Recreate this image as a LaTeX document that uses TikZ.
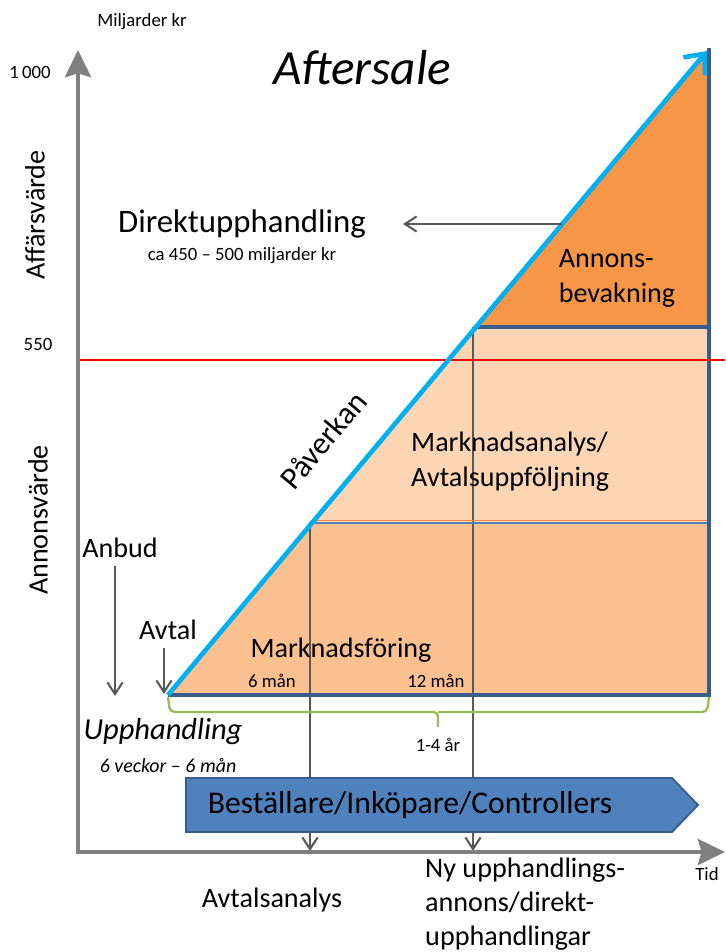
\documentclass[tikz,border=0pt]{standalone}
\usepackage{fontspec}
\setmainfont{Carlito}
\usetikzlibrary{arrows.meta}

\definecolor{axisgray}{HTML}{808080}
\definecolor{pointgray}{HTML}{595959}
\definecolor{rimblue}{HTML}{385D8A}
\definecolor{boxblue}{HTML}{4F81BD}
\definecolor{skyblue}{HTML}{00B0F0}
\definecolor{darkorange}{HTML}{F79646}
\definecolor{paleorange}{HTML}{FCD5B5}
\definecolor{midorange}{HTML}{FAC090}
\definecolor{bracegreen}{HTML}{9BBB59}

\begin{document}
\begin{tikzpicture}
    [x=0.03cm, y=-0.03cm,
    big/.style={font=\fontsize{24}{30}\selectfont, inner sep=0pt},
    small/.style={font=\fontsize{16}{19}\selectfont, inner sep=0pt},
    axis/.style={line width=4pt, axisgray, -{Stealth[length=23pt, width=22pt, inset=3pt]}},
    pointer/.style={line width=1.8pt, pointgray, -{Straight Barb[length=10pt, width=13pt]}},
    rim/.style={line width=3.2pt, rimblue},
    brace/.style={line width=2pt, bracegreen, rounded corners=4pt}]

    \useasboundingbox (0,0) rectangle (725,952);

    % regions under the diagonal
    \fill[darkorange] (709,50) -- (477,327) -- (709,327) -- cycle;
    \fill[paleorange] (477,327) -- (313,522) -- (709,522) -- (709,327) -- cycle;
    \fill[midorange] (313,522) -- (168,695) -- (709,695) -- (709,522) -- cycle;

    % drop lines
    \coordinate (s6top) at (310,522);
    \coordinate (s6bot) at (310,851);
    \coordinate (s12top) at (473,327);
    \coordinate (s12bot) at (473,851);
    \draw[pointer] (s6top) -- (s6bot);
    \draw[pointer] (s12top) -- (s12bot);

    % borders
    \draw[line width=1.8pt, boxblue] (313,523) -- (709,523);
    \draw[line width=1pt, darkorange!90!red] (313,520.5) -- (709,520.5);
    \draw[rim] (477,327) -- (709,327);
    \draw[rim] (168,695) -- (709,695);
    \draw[rim] (709,48) -- (709,697);

    % limit line
    \draw[line width=1.6pt, red] (78,360) -- (725,360);

    % diagonal
    \coordinate (start) at (168,695);
    \coordinate (peak) at (707,51);
    \draw[line width=4pt, skyblue, -{Straight Barb[length=14pt, width=24pt, line width=4pt]}] (start) -- (peak);

    % brace
    \draw[brace] (168,697) -- (170,712) -- (438,712) -- (438,727);
    \draw[brace] (438,712) -- (707,712) -- (709,697);

    % texts
    \node[small] (unit) at (142,22) {Miljarder kr};
    \node[small] (ytop) at (30,72) {1\,000};
    \node[font=\fontsize{42}{48}\selectfont\itshape, inner sep=0pt] (title) at (362,68) {Aftersale};
    \node[big, rotate=90] (affv) at (35,215) {Affärsvärde};
    \node[small] (level) at (38,344) {550};
    \node[big, rotate=90] (annv) at (38,520) {Annonsvärde};
    \node[font=\fontsize{28}{32}\selectfont, inner sep=0pt] (direkt) at (242,224) {Direktupphandling};
    \node[small] (sum) at (242,256) {ca 450 – 500 miljarder kr};
    \node[big, align=left] (bevak) at (617,278) {Annons-\\bevakning};
    \node[big, align=left, anchor=west] (analys) at (411,462) {Marknadsanalys/\\Avtalsuppföljning};
    \node[big, font=\fontsize{27}{30}\selectfont, rotate=50] (paverkan) at (323,440) {Påverkan};
    \node[big] (anbud) at (120,548) {Anbud};
    \node[big] (avtal) at (168,630) {Avtal};
    \node[big] (mfor) at (341,650) {Marknadsföring};
    \node[small] (m6) at (272,681) {6 mån};
    \node[small] (m12) at (436,681) {12 mån};
    \node[small] (years) at (438,745) {1-4 år};
    \node[big, font=\fontsize{26}{30}\selectfont\itshape] (upph) at (163,732) {Upphandling};
    \node[small, font=\fontsize{17}{20}\selectfont\itshape] (weeks) at (168,766) {6 veckor – 6 mån};

    % arrows to the left and down
    \coordinate (dfrom) at (562,224);
    \coordinate (dto) at (403,224);
    \draw[pointer] (dfrom) -- (dto);
    \coordinate (anbudend) at (115,696);
    \draw[pointer] ([yshift=-7pt]anbud.south -| anbudend) -- (anbudend);
    \coordinate (avtalend) at (164,694);
    \draw[pointer] ([yshift=-7pt]avtal.south -| avtalend) -- (avtalend);

    % roles box
    \draw[line width=1.6pt, rimblue, fill=boxblue] (186,778) -- (672,778) -- (698,805) -- (672,832) -- (186,832) -- cycle;
    \node[font=\fontsize{27}{30}\selectfont, inner sep=0pt] (roles) at (410,805) {Beställare/Inköpare/Controllers};

    % axes
    \coordinate (origin) at (78,852);
    \coordinate (yend) at (78,50);
    \coordinate (xend) at (725,852);
    \draw[axis] (origin) -- (yend);
    \draw[axis] ([xshift=-2pt]origin) -- (xend);

    \node[small] (tid) at (707,874) {Tid};
    \node[big] (avtalsan) at (272,900) {Avtalsanalys};
    \node[big, align=left, anchor=west, font=\fontsize{24}{29}\selectfont] (nyupph) at (425,904) {Ny upphandlings-\\annons/direkt-\\upphandlingar};

\end{tikzpicture}
\end{document}
